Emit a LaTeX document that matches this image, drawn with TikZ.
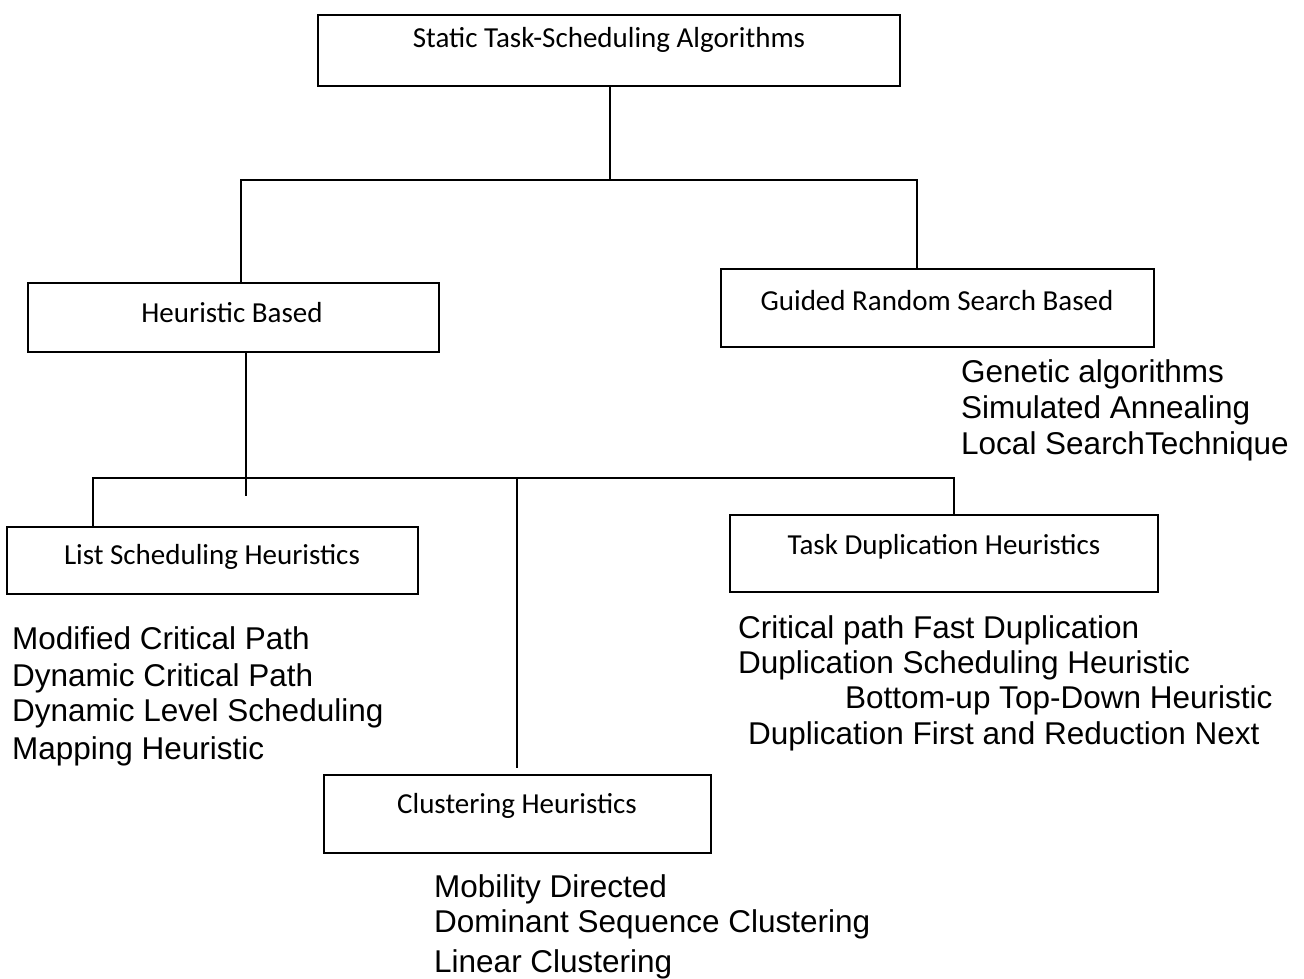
\documentclass[tikz,border=0pt]{standalone}
\usepackage{fontspec}
\setmainfont{Liberation Sans}
\newfontfamily\boxfont{Carlito}
\begin{document}
\begin{tikzpicture}[x=1pt,y=-1pt,
  box/.style={draw=black, line width=1.6pt, rectangle, inner sep=0pt},
  boxtext/.style={font=\boxfont\fontsize{29}{34}\selectfont, inner sep=0pt},
  item/.style={font=\fontsize{31.5}{36}\selectfont, anchor=base west, inner sep=0pt},
  conn/.style={line width=1.6pt, line cap=rect}]
\useasboundingbox (0,0) rectangle (1304,979);

% boxes
\node[box, minimum width=582pt, minimum height=71pt] (top) at (609,50.5) {};
\node[boxtext] (toptxt) at (609,40) {Static Task-Scheduling Algorithms};

\node[box, minimum width=411pt, minimum height=69pt] (hb) at (233.5,317.5) {};
\node[boxtext] (hbtxt) at (232,313) {Heuristic Based};

\node[box, minimum width=433pt, minimum height=78pt] (gr) at (937.5,308) {};
\node[boxtext] (grtxt) at (937,301) {Guided Random Search Based};

\node[box, minimum width=411pt, minimum height=67pt] (ls) at (212.5,560.5) {};
\node[boxtext] (lstxt) at (212,557) {List Scheduling Heuristics};

\node[box, minimum width=428pt, minimum height=77pt] (td) at (944,553.5) {};
\node[boxtext] (tdtxt) at (944,547) {Task Duplication Heuristics};

\node[box, minimum width=387pt, minimum height=78pt] (cl) at (517.5,814) {};
\node[boxtext] (cltxt) at (517,806) {Clustering Heuristics};

% lists
\node[item] (g1) at (961,382) {Genetic algorithms};
\node[item] (g2) at (961,418) {Simulated Annealing};
\node[item] (g3) at (961,454) {Local SearchTechnique};

\node[item] (l1) at (12,649) {Modified Critical Path};
\node[item] (l2) at (12,686) {Dynamic Critical Path};
\node[item] (l3) at (12,721) {Dynamic Level Scheduling};
\node[item] (l4) at (12,759) {Mapping Heuristic};

\node[item] (t1) at (738,638) {Critical path Fast Duplication};
\node[item] (t2) at (738,673) {Duplication Scheduling Heuristic};
\node[item] (t3) at (845,708) {Bottom-up Top-Down Heuristic};
\node[item] (t4) at (748,744) {Duplication First and Reduction Next};

\node[item] (c1) at (434,897) {Mobility Directed};
\node[item] (c2) at (434,932) {Dominant Sequence Clustering};
\node[item] (c3) at (434,972) {Linear Clustering};

% connectors, upper level
\coordinate (u0) at (610,180);
\coordinate (uL) at (241,180);
\coordinate (uR) at (917,180);
\draw[conn] (top.south -| u0) -- (u0);
\draw[conn] (uL) -- (uR);
\draw[conn] (uL) -- (uL |- hb.north);
\draw[conn] (uR) -- (uR |- gr.north);

% connectors, lower level
\coordinate (hbend) at (246,495);
\coordinate (dL) at (93,478);
\coordinate (dM) at (517,478);
\coordinate (dR) at (954,478);
\coordinate (cend) at (517,767);
\draw[conn] (hb.south -| hbend) -- (hbend);
\draw[conn] (dL) -- (dR);
\draw[conn] (dL) -- (dL |- ls.north);
\draw[conn] (dM) -- (cend);
\draw[conn] (dR) -- (dR |- td.north);
\end{tikzpicture}
\end{document}
